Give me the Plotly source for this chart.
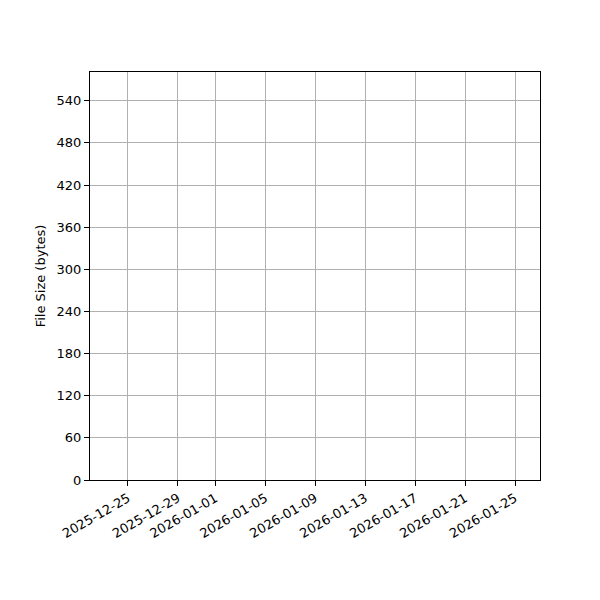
"""File size history chart (no samples recorded in the window)."""

import plotly.graph_objs as go

# tick dates shown on the x axis
tick_dates = [
    "2025-12-25", "2025-12-29", "2026-01-01", "2026-01-05", "2026-01-09",
    "2026-01-13", "2026-01-17", "2026-01-21", "2026-01-25",
]
# y tick values (bytes)
size_ticks = [0, 60, 120, 180, 240, 300, 360, 420, 480, 540]

# recorded samples: none visible in the chart
sample_dates = []
sample_sizes = []

x_range = ["2025-12-21 23:00", "2026-01-27 00:00"]
y_range = [0, 581]

FONT = "DejaVu Sans, sans-serif"

figure = go.Figure()
figure.add_trace(
    go.Scatter(
        x=sample_dates,
        y=sample_sizes,
        mode="lines+markers",
        name="File Size",
        line=dict(color="#1f77b4"),
        showlegend=False,
    )
)

axis_common = dict(
    showline=True,
    linecolor="black",
    linewidth=1,
    mirror=True,
    ticks="outside",
    ticklen=5,
    tickwidth=1,
    tickcolor="black",
    showgrid=True,
    gridcolor="#b0b0b0",
    gridwidth=1,
    zeroline=False,
    tickfont=dict(family=FONT, size=13, color="black"),
)

# the page puts the plot 8px in from the top-left corner, so margins account for it
figure.update_layout(
    width=600,
    height=600,
    margin=dict(l=82, r=68, t=64, b=128),
    paper_bgcolor="white",
    plot_bgcolor="white",
    font=dict(family=FONT, size=13, color="black"),
    xaxis=dict(
        type="date",
        range=x_range,
        tickvals=tick_dates,
        ticktext=tick_dates,
        tickangle=-30,
        **axis_common,
    ),
    yaxis=dict(
        range=y_range,
        tickvals=size_ticks,
        title=dict(text="File Size (bytes)", font=dict(family=FONT, size=13), standoff=8),
        **axis_common,
    ),
)

figure.write_html("out.html")
